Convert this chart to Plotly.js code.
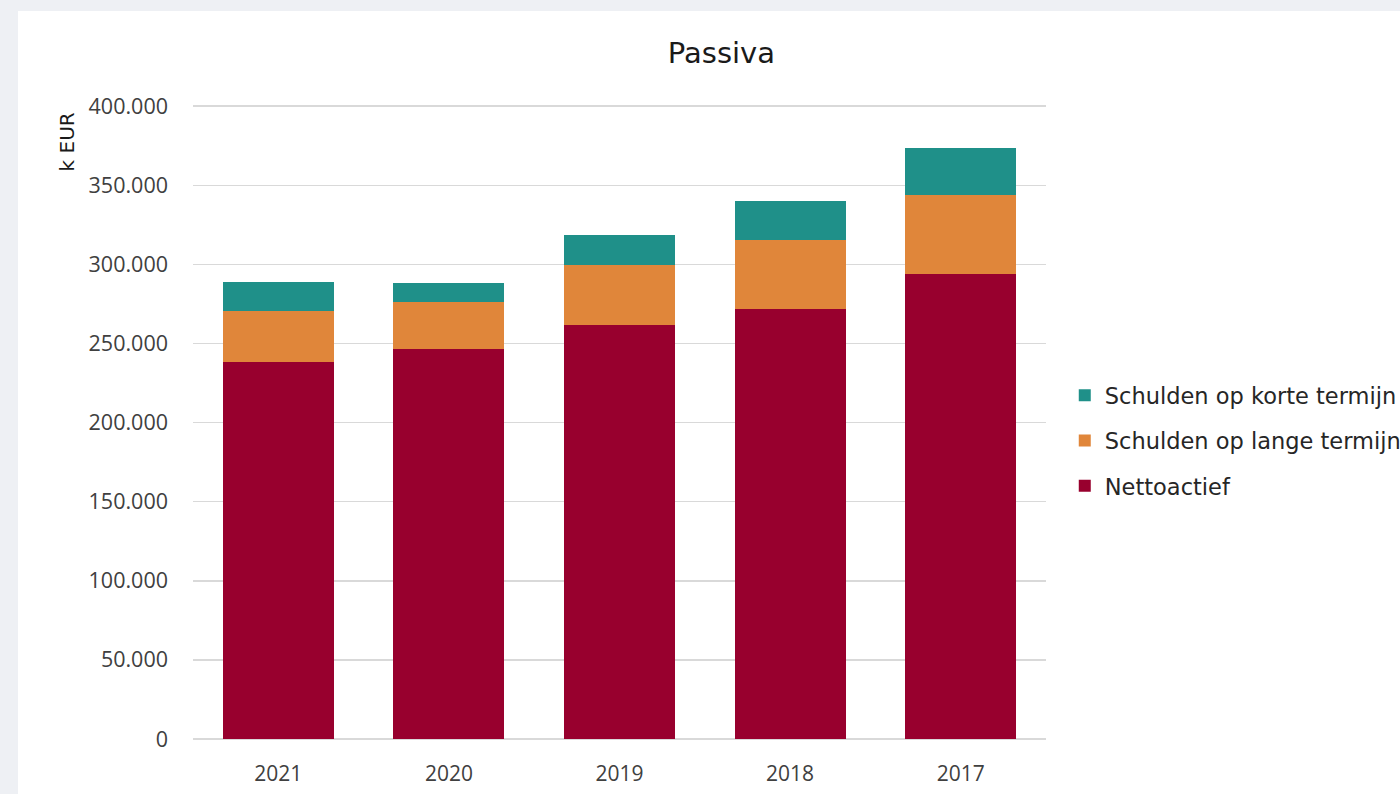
<!DOCTYPE html>
<html>
<head>
<meta charset="utf-8">
<script src="https://cdn.plot.ly/plotly-3.0.1.min.js"></script>
<style>
  html, body { margin: 0; padding: 0; background: #eef0f4; width: 1400px; height: 794px; overflow: hidden; }
  #chart { position: absolute; left: 18px; top: 11px; width: 1382px; height: 783px; background: #ffffff; }
</style>
</head>
<body>
<div id="chart"></div>
<script>
const years = ["2021", "2020", "2019", "2018", "2017"];
const nettoactief = [238000, 246600, 261800, 271500, 293800];
const langeTermijn = [32500, 29500, 37500, 43600, 50200];
const korteTermijn = [18300, 11900, 19000, 24900, 29300];
const yTicks = [0, 50000, 100000, 150000, 200000, 250000, 300000, 350000, 400000];

const colors = { netto: "#98002e", lange: "#e0863a", korte: "#1f9089" };

const traces = [
  { type: "bar", x: years, y: nettoactief, name: "Nettoactief", legendgroup: "a", legendrank: 3,
    marker: { color: colors.netto }, hovertemplate: "%{x}: %{y:,d}<extra>Nettoactief</extra>" },
  { type: "bar", x: years, y: langeTermijn, name: "Schulden op lange termijn", legendgroup: "b", legendrank: 2,
    marker: { color: colors.lange }, hovertemplate: "%{x}: %{y:,d}<extra>Schulden op lange termijn</extra>" },
  { type: "bar", x: years, y: korteTermijn, name: "Schulden op korte termijn", legendgroup: "c", legendrank: 1,
    marker: { color: colors.korte }, hovertemplate: "%{x}: %{y:,d}<extra>Schulden op korte termijn</extra>" }
];

const layout = {
  width: 1382, height: 783,
  paper_bgcolor: "#ffffff", plot_bgcolor: "#ffffff",
  margin: { l: 175, r: 354, t: 92, b: 55, pad: 0, autoexpand: false },
  barmode: "stack",
  bargap: 0.35,
  separators: ",.",
  showlegend: true,
  title: {
    text: "Passiva",
    font: { family: "DejaVu Sans", size: 29, color: "#1a1a1a" },
    x: 0.509, xref: "container", xanchor: "center",
    y: 0.947, yref: "container", yanchor: "middle"
  },
  xaxis: {
    type: "category",
    tickfont: { family: "Open Sans", size: 21, color: "#404040" },
    showgrid: false, showline: false, zeroline: false,
    ticks: "", ticklabelstandoff: 20
  },
  yaxis: {
    range: [0, 402000],
    tickvals: yTicks,
    tickformat: ",d",
    tickfont: { family: "Open Sans", size: 21.5, color: "#404040" },
    showgrid: true, gridcolor: "#d9d9d9", gridwidth: 1.5,
    zeroline: true, zerolinecolor: "#d9d9d9", zerolinewidth: 1.5,
    showline: false, ticks: "", ticklabelstandoff: 24
  },
  legend: {
    x: 1.022, xanchor: "left",
    y: 0.469, yanchor: "middle",
    traceorder: "grouped",
    tracegroupgap: 13,
    font: { family: "DejaVu Sans", size: 22.5, color: "#262626" },
    bgcolor: "rgba(0,0,0,0)"
  },
  annotations: [
    {
      text: "k EUR", textangle: -90, showarrow: false,
      xref: "paper", yref: "paper",
      x: -0.1477, y: 0.938, xanchor: "center", yanchor: "middle",
      font: { family: "DejaVu Sans", size: 20, color: "#1a1a1a" }
    }
  ]
};

Plotly.newPlot("chart", traces, layout, { displayModeBar: false, staticPlot: true });
</script>
</body>
</html>
